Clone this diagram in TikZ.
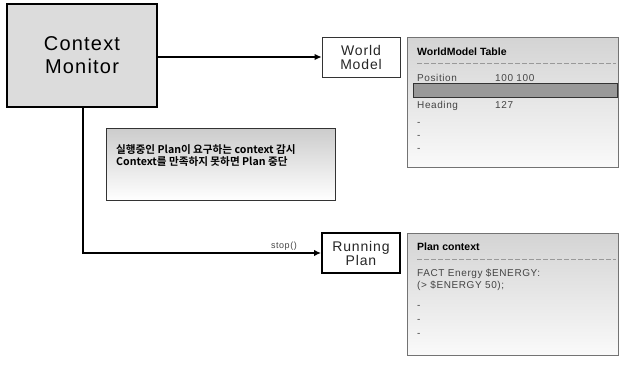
\documentclass[tikz,border=0pt]{standalone}
\usepackage{fontspec}
\setmainfont{Liberation Sans}
\newfontfamily\gul[LetterSpace=6]{Liberation Sans}
\newfontfamily\kr{Noto Sans CJK KR}[BoldFont={Noto Sans CJK KR Bold}]
\usetikzlibrary{arrows.meta}
\definecolor{cmfill}{HTML}{DCDCDC}
\definecolor{txtgray}{HTML}{444444}
\definecolor{bargray}{HTML}{999999}
\tikzset{
  bigbox/.style={draw=black, line width=2pt, fill=cmfill, minimum width=150pt, minimum height=103pt, inner sep=0pt, align=center, font=\gul\fontsize{20}{25}\selectfont},
  smallbox/.style={draw=black!80, line width=0.8pt, fill=white, minimum width=78pt, minimum height=40pt, inner sep=0pt, align=center, font=\gul\fontsize{14}{17}\selectfont, text=black!85},
  runbox/.style={smallbox, line width=2pt, draw=black},
  panel/.style={draw=black!55, line width=0.9pt, top color=black!17, bottom color=black!2, anchor=north west, inner sep=0pt},
  notebox/.style={draw=black!80, line width=0.9pt, top color=black!20, bottom color=white, anchor=north west, inner sep=0pt},
  ptitle/.style={anchor=base west, inner sep=0pt, font=\bfseries\fontsize{10.5}{12}\selectfont},
  ptext/.style={anchor=base west, inner sep=0pt, font=\gul\fontsize{10}{12}\selectfont, text=txtgray},
  sep/.style={draw=black!40, line width=0.8pt, dash pattern=on 4.5pt off 2.5pt},
  conn/.style={draw=black, line width=1.3pt},
  arr/.style={conn, -{Latex[length=7pt,width=6.5pt]}},
}
\begin{document}
\begin{tikzpicture}[x=1pt,y=-1pt]
\useasboundingbox (0,0) rectangle (619,365);
% Context Monitor
\node[bigbox] (cm) at (82,55.5) {Context\\[-2pt]Monitor};
% World Model
\node[smallbox] (wm) at (361,57) {World\\[-3pt]Model};
% Running Plan
\node[runbox] (rp) at (361,253) {Running\\[-3pt]Plan};
% WorldModel Table panel
\node[panel, minimum width=211pt, minimum height=130pt] (wmt) at (407,37) {};
\node[ptitle] (wmtitle) at (417,55.5) {WorldModel Table};
\draw[sep] (417,63) -- (616,63);
\node[ptext] (pos) at (417,81.5) {Position};
\node[ptext] (posv) at (495,81.5) {100 100};
\node[draw=black!80, line width=0.9pt, fill=bargray, anchor=north west, minimum width=204pt, minimum height=14pt, inner sep=0pt] (bar) at (413,83) {};
\node[ptext] (head) at (417,108.5) {Heading};
\node[ptext] (headv) at (495,108.5) {127};
\node[ptext] (d1) at (417,125) {-};
\node[ptext] (d2) at (417,138) {-};
\node[ptext] (d3) at (417,151) {-};
% Note
\node[notebox, minimum width=229pt, minimum height=72pt] (note) at (106,128) {};
\node[anchor=base west, inner sep=0pt, align=left, font=\kr\bfseries\fontsize{10.6}{11.5}\selectfont] (notetxt) at (116,165) {실행중인 Plan이 요구하는 context 감시\\Context를 만족하지 못하면 Plan 중단};
% Plan context panel
\node[panel, minimum width=211pt, minimum height=122pt] (pc) at (407,233) {};
\node[ptitle] (pctitle) at (417,250.5) {Plan context};
\draw[sep] (417,259) -- (616,259);
\node[ptext] (f1) at (417,276.5) {FACT Energy \$ENERGY:};
\node[ptext] (f2) at (417,288) {(> \$ENERGY 50);};
\node[ptext] (e1) at (417,308) {-};
\node[ptext] (e2) at (417,322) {-};
\node[ptext] (e3) at (417,336) {-};
% connectors
\draw[arr] (cm.east |- wm.west) -- (wm.west);
\coordinate (bend) at (83,253);
\draw[arr] (cm.south -| bend) -- (bend) -- (rp.west);
\node[anchor=base east, inner sep=0pt, font=\gul\fontsize{9}{10}\selectfont, text=txtgray] (stop) at (297,248.5) {stop()};
\end{tikzpicture}
\end{document}
